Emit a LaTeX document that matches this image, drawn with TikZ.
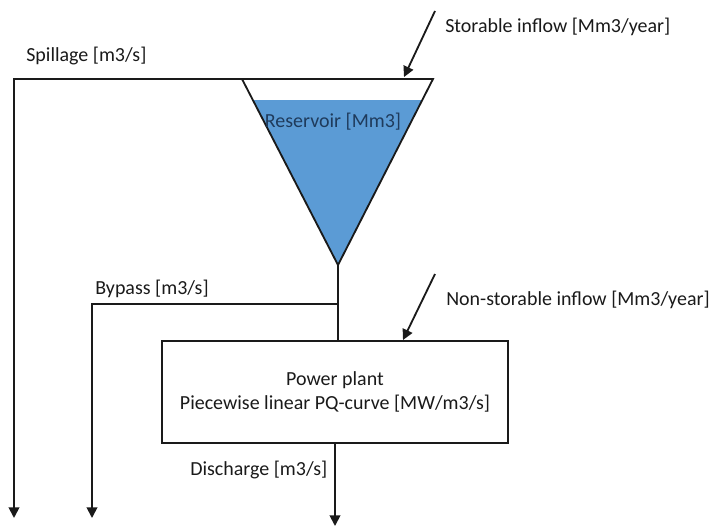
\documentclass[tikz,border=0pt]{standalone}
\usepackage{fontspec}
\setmainfont{Carlito}
\usetikzlibrary{arrows.meta, positioning, calc}
\definecolor{waterblue}{HTML}{5B9BD5}
\definecolor{inkblack}{HTML}{1A1A1A}
\definecolor{reservoirtext}{HTML}{1F3B5C}

\begin{document}
\begin{tikzpicture}[
  x=0.025cm, y=-0.025cm,
  every node/.style={font=\fontsize{14.2}{17}\selectfont, text=inkblack},
  plant/.style={
    rectangle, draw=inkblack, line width=1.3pt,
    minimum width=8.65cm, minimum height=2.55cm,
    align=center, inner sep=0pt,
  },
  flowtext/.style={anchor=west, inner sep=0pt},
  pipe/.style={line width=1.3pt, draw=inkblack},
  flow/.style={pipe, -{Triangle[length=7.5pt, width=7.5pt]}},
]

\useasboundingbox (0,0) rectangle (711,526);

% Reservoir triangle with water
\coordinate (resL) at (242,79);
\coordinate (resR) at (433,79);
\coordinate (apex) at (338,265);
\fill[waterblue] ($(resL)!0.113!(apex)$) -- ($(resR)!0.113!(apex)$) -- (apex) -- cycle;
\draw[pipe, line join=miter] (resL) -- (resR) -- (apex) -- cycle;
\node[text=reservoirtext] (resname) at (333,122) {Reservoir [Mm3]};

% Spillage
\coordinate (spillcorner) at (14,79);
\coordinate (spillend)    at (14,518);
\draw[flow] (resL) -- (spillcorner) -- (spillend);
\node[flowtext] (spilltxt) at (26,56) {Spillage [m3/s]};

% Storable inflow
\coordinate (instart) at (435,11);
\coordinate (inend)   at (404,77);
\draw[flow] (instart) -- (inend);
\node[flowtext] (storetxt) at (445,27) {Storable inflow [Mm3/year]};

% Power plant
\node[plant] (plant) at (335,392) {Power plant\\Piecewise linear PQ-curve [MW/m3/s]};
\draw[pipe] (apex) -- (apex |- plant.north);

% Bypass
\coordinate (bypassjoint)  at (338,304);
\coordinate (bypasscorner) at (92,304);
\coordinate (bypassend)    at (92,518);
\draw[flow] (bypassjoint) -- (bypasscorner) -- (bypassend);
\node[flowtext] (bypasstxt) at (95,289) {Bypass [m3/s]};

% Non-storable inflow
\coordinate (nsstart) at (435,274);
\coordinate (nsend)   at (403,340);
\draw[flow] (nsstart) -- (nsend);
\node[flowtext] (nstxt) at (446,300) {Non-storable inflow [Mm3/year]};

% Discharge
\coordinate (dischend) at (335,526);
\draw[flow] (plant.south) -- (dischend);
\node[flowtext] (dischtxt) at (190,470) {Discharge [m3/s]};

\end{tikzpicture}
\end{document}
